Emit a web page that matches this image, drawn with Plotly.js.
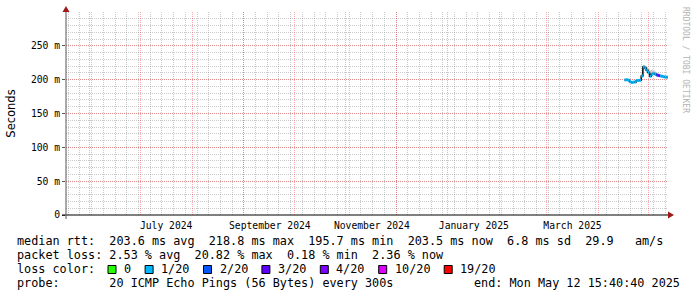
<!DOCTYPE html>
<html><head><meta charset="utf-8">
<script src="https://cdn.plot.ly/plotly-3.0.1.min.js"></script>
<style>html,body{margin:0;padding:0;background:#fff}#chart{width:697px;height:297px}</style>
</head><body><div id="chart"></div>
<script>
// ---------- data ----------
const startTime = '2024-05-17 15:40:40';
const endTime = '2025-05-12 15:40:40';
const dates = ['2025-04-16 15:00','2025-04-17 15:00','2025-04-18 15:00','2025-04-19 15:00','2025-04-20 15:00',
  '2025-04-21 15:00','2025-04-22 15:00','2025-04-23 15:00','2025-04-24 15:00','2025-04-25 15:00',
  '2025-04-26 15:00','2025-04-27 15:00','2025-04-28 15:00','2025-04-29 15:00','2025-04-30 15:00',
  '2025-05-01 15:00','2025-05-02 15:00','2025-05-03 15:00','2025-05-04 15:00','2025-05-05 15:00',
  '2025-05-06 15:00','2025-05-07 15:00','2025-05-08 15:00','2025-05-09 15:00','2025-05-10 15:00',
  '2025-05-11 15:00','2025-05-12 15:00'];
const medianMs = [199.6,199.8,199.2,197.0,195.7,196.3,196.5,198.6,198.8,199.0,
  205.5,218.8,217.2,214.0,210.5,205.0,207.8,209.2,208.0,206.8,
  206.2,205.4,204.9,204.2,203.9,203.6,203.5];
const lossCount = [0.4,0.5,0.3,0.6,0.5,0.4,0.7,0.5,0.4,0.6,
  0.8,0.9,0.7,0.6,0.5,0.4,0.6,0.7,0.5,1.6,
  3.7,0.8,0.6,0.5,0.4,0.5,0.5];
const smokeHiMs = [201,201.5,201,199,198,198.5,198.5,200.5,201,201,
  209,222,221,219,216,214,215,214,212,210,
  209,208,207,206.5,206,205.5,205];
const smokeLoMs = [198.5,198.5,198,196,195,195.5,195.5,197.5,197.5,198,
  203,216,214,211,207,203,205,207,206,205,
  204.5,204,203.5,203,202.5,202.3,202.2];
const yTickVals = [0,0.05,0.1,0.15,0.2,0.25];
const yTickText = ['0','50 m','100 m','150 m','200 m','250 m'];
const monthGrid = ['2024-06-01','2024-07-01','2024-08-01','2024-09-01','2024-10-01','2024-11-01',
  '2024-12-01','2025-01-01','2025-02-01','2025-03-01','2025-04-01','2025-05-01'];
const monthText = ['','July 2024','','September 2024','','November 2024','','January 2025','','March 2025','',''];
const lossThresholds = [0,1,2,3,4,10,19];
const lossColors = ['#26ff00','#00b8ff','#0059ff','#5e00ff','#7e00ff','#dd00ff','#ff0000'];
const lossLabels = ['0','1/20','2/20','3/20','4/20','10/20','19/20'];
const statsRow1 = 'median rtt:  203.6 ms avg  218.8 ms max  195.7 ms min  203.5 ms now  6.8 ms sd  29.9   am/s';
const statsRow2 = 'packet loss: 2.53 % avg  20.82 % max  0.18 % min  2.36 % now';
const lossTitle = 'loss color:';
const probeRow = 'probe:       20 ICMP Echo Pings (56 Bytes) every 300s';
const endText = 'end: Mon May 12 15:40:40 2025';
const watermark = 'RRDTOOL / TOBI OETIKER';

// ---------- geometry ----------
const W = 697, H = 297, L = 66, R = 29, T = 12, B = 82;
const pw = W - L - R, ph = H - T - B;
const px = x => (x - L) / pw;
const py = y => (H - B - y) / ph;
const MONO = 'DejaVu Sans Mono';
const LEG = 11.8;

const sec = v => v / 1000;
const edges = dates.concat([endTime]);
const medS = medianMs.map(sec);

function lossCat(l) {
  if (l <= 0) return 0;
  for (let k = 1; k < lossThresholds.length; k++) if (l <= lossThresholds[k]) return k;
  return lossThresholds.length - 1;
}

const traces = [];
// smoke
traces.push({x: edges, y: smokeLoMs.map(sec).concat([sec(smokeLoMs[smokeLoMs.length-1])]),
  mode: 'lines', line: {shape: 'hv', width: 0, color: 'rgba(0,0,0,0)'}, hoverinfo: 'skip', showlegend: false});
traces.push({x: edges, y: smokeHiMs.map(sec).concat([sec(smokeHiMs[smokeHiMs.length-1])]),
  mode: 'lines', fill: 'tonexty', fillcolor: '#d2d2d2',
  line: {shape: 'hv', width: 0, color: 'rgba(0,0,0,0)'}, hoverinfo: 'skip', showlegend: false});
// black median connector
traces.push({x: edges, y: medS.concat([medS[medS.length-1]]), mode: 'lines',
  line: {shape: 'hv', width: 1.5, color: '#000'}, showlegend: false});
// colored median segments by loss
for (let c = 0; c < lossColors.length; c++) {
  const xs = [], ys = [];
  for (let i = 0; i < dates.length; i++) {
    if (lossCat(lossCount[i]) === c) { xs.push(edges[i], edges[i+1], null); ys.push(medS[i], medS[i], null); }
  }
  if (xs.length) traces.push({x: xs, y: ys, mode: 'lines', line: {width: 3, color: lossColors[c]}, showlegend: false});
}

// ---------- shapes & annotations ----------
const shapes = [
  {type: 'line', xref: 'paper', yref: 'paper', x0: px(62), x1: px(668), y0: py(215), y1: py(215), line: {color: '#000', width: 1}, layer: 'above'},
  {type: 'path', xref: 'paper', yref: 'paper', path: `M ${px(668)},${py(211.5)} L ${px(674)},${py(215)} L ${px(668)},${py(218.5)} Z`, fillcolor: '#a01818', line: {width: 0}, layer: 'above'},
  {type: 'line', xref: 'paper', yref: 'paper', x0: px(66), x1: px(66), y0: py(219), y1: py(11), line: {color: '#555', width: 1}, layer: 'above'},
  {type: 'path', xref: 'paper', yref: 'paper', path: `M ${px(62.5)},${py(12)} L ${px(66)},${py(6)} L ${px(69.5)},${py(12)} Z`, fillcolor: '#a01818', line: {width: 0}, layer: 'above'}
];
const txt = (s, x, y, extra) => Object.assign({text: s, xref: 'paper', yref: 'paper', x: px(x), y: py(y), xanchor: 'left', yanchor: 'middle', showarrow: false,
  font: {family: MONO, size: LEG, color: '#000'}}, extra || {});
const annotations = [
  txt(statsRow1, 15, 241), txt(statsRow2, 15, 255), txt(lossTitle, 15, 269), txt(probeRow, 15, 283),
  txt(endText, 682, 283, {xanchor: 'right'}),
  txt(watermark, 686, 60, {xanchor: 'center', textangle: 90, font: {family: MONO, size: 8, color: '#b4b4b4'}})
];
let bx = 108;
for (let k = 0; k < lossColors.length; k++) {
  shapes.push({type: 'rect', xref: 'paper', yref: 'paper', x0: px(bx), x1: px(bx + 8), y0: py(273.5), y1: py(265.5),
    fillcolor: lossColors[k], line: {color: '#000', width: 1}});
  annotations.push(txt(lossLabels[k], bx + 14, 269));
  bx += 30 + 7.1 * lossLabels[k].length;
}

const gridMajor = 'rgba(255,0,0,0.33)';
const gridMinor = 'rgba(130,130,130,0.42)';
const layout = {
  width: W, height: H, margin: {l: L, r: R, t: T, b: B},
  paper_bgcolor: '#fff', plot_bgcolor: '#fff', showlegend: false,
  xaxis: {type: 'date', range: [startTime, endTime], tickvals: monthGrid, ticktext: monthText,
    ticklabelshift: 26, ticklabelstandoff: 3, tickfont: {family: MONO, size: 9.7, color: '#000'}, ticks: '',
    showgrid: true, gridcolor: gridMajor, griddash: '1px,1px', gridwidth: 1,
    zeroline: false, showline: false, fixedrange: true,
    minor: {dtick: 7 * 86400000, tick0: '2024-05-26', showgrid: true, gridcolor: gridMinor, griddash: '1px,1px', gridwidth: 1}},
  yaxis: {range: [0, 0.2999], tickvals: yTickVals, ticktext: yTickText,
    tickfont: {family: MONO, size: 9.7, color: '#000'}, ticks: 'outside', ticklen: 3, tickcolor: '#555',
    showgrid: true, gridcolor: gridMajor, griddash: '1px,1px', gridwidth: 1,
    zeroline: false, showline: false, fixedrange: true,
    title: {text: 'Seconds', font: {family: 'DejaVu Sans', size: 11.5, color: '#000'}, standoff: 12},
    minor: {dtick: 0.01, showgrid: true, gridcolor: gridMinor, griddash: '1px,1px', gridwidth: 1}},
  shapes: shapes, annotations: annotations
};
Plotly.newPlot('chart', traces, layout, {displayModeBar: false, staticPlot: true});
</script></body></html>
